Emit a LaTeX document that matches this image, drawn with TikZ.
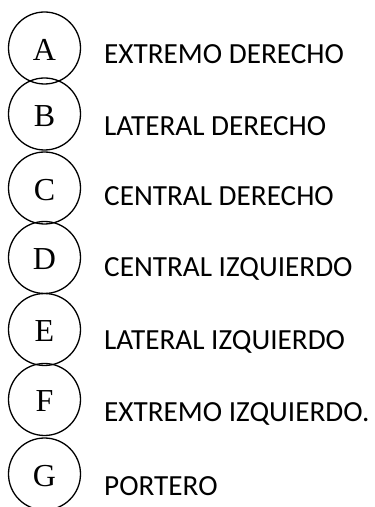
\documentclass[tikz,border=0pt]{standalone}
\usepackage{fontspec}
\setmainfont{Liberation Serif}
\newfontfamily\lblfont{Carlito}
\begin{document}
\begin{tikzpicture}[x=1pt,y=1pt,
  poscircle/.style={circle,draw,line width=1.3pt,minimum size=72pt,inner sep=0pt,
    font=\fontsize{32}{32}\selectfont,text height=25pt,text depth=0pt},
  lbl/.style={anchor=base west,inner sep=0pt,font=\lblfont\fontsize{29.2}{29.2}\selectfont}]
\useasboundingbox (0,0) rectangle (375,507);
\node[poscircle] (a) at (44.5,507-48) {A};
\node[poscircle] (b) at (44.5,507-114) {B};
\node[poscircle] (c) at (44.5,507-188) {C};
\node[poscircle] (d) at (44.5,507-257.5) {D};
\node[poscircle] (e) at (44.5,507-329.5) {E};
\node[poscircle] (f) at (44.5,507-399.5) {F};
\node[poscircle] (g) at (44.5,507-474) {G};
\node[lbl] (la) at (104,507-64) {EXTREMO DERECHO};
\node[lbl] (lb) at (104,507-136) {LATERAL DERECHO};
\node[lbl] (lc) at (104,507-206) {CENTRAL DERECHO};
\node[lbl] (ld) at (104,507-277) {CENTRAL IZQUIERDO};
\node[lbl] (le) at (104,507-350) {LATERAL IZQUIERDO};
\node[lbl] (lf) at (104,507-422) {EXTREMO IZQUIERDO.};
\node[lbl] (lg) at (104,507-496) {PORTERO};
\end{tikzpicture}
\end{document}
